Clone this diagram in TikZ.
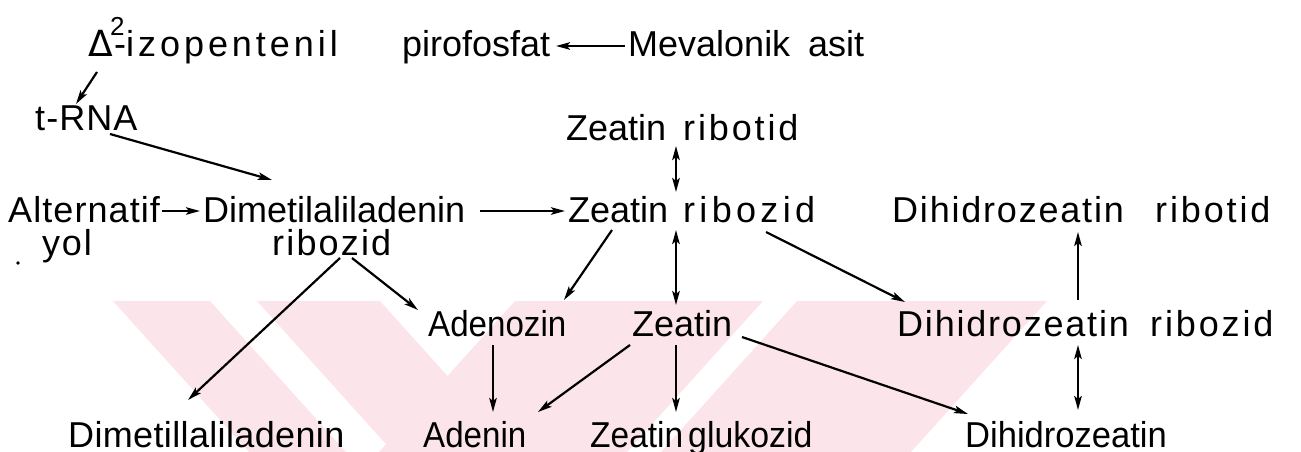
\documentclass[tikz,border=0pt]{standalone}
\usepackage{fontspec}
\setmainfont{Liberation Sans}
\newfontfamily\symfont{DejaVu Sans}
\usetikzlibrary{arrows.meta}

% letter-spaced word, and horizontally condensed word
\newcommand{\spaced}[2]{{\addfontfeatures{LetterSpace=#1}#2}}
\newcommand{\narrow}[2]{\scalebox{#1}[1]{#2}}

\begin{document}
\begin{tikzpicture}[x=1pt,y=-1pt,
  lbl/.style={anchor=base west, inner sep=0pt, font=\fontsize{36}{40}\selectfont},
  arr/.style={-{Stealth[length=14pt,width=7.5pt,inset=3pt]}, line width=2.2pt},
  darr/.style={{Stealth[length=14pt,width=7.5pt,inset=3pt]}-{Stealth[length=14pt,width=7.5pt,inset=3pt]}, line width=2.2pt},
  wm/.style={fill={rgb,255:red,252;green,229;blue,234}},
]
\useasboundingbox (0,0) rectangle (1301,452);

% pale background emblem
\begin{scope}
  \clip (0,0) rectangle (1301,452);
  \fill[wm] (113,301) -- (210,301) -- (346,452) -- (249,452) -- cycle;
  \fill[wm] (257,301) -- (380,301) -- (516,452) -- (393,452) -- cycle;
  \fill[wm] (515,301) -- (763,301) -- (627,452) -- (379,452) -- cycle;
  \fill[wm] (797,301) -- (1047,301) -- (911,452) -- (661,452) -- cycle;
\end{scope}

% labels (placed at the left end of their baseline)
\node[lbl] (iso) at (88,57) {\makebox[314pt][l]{\makebox[26pt][l]{\symfont Δ}\rlap{\hspace{-4pt}\raisebox{21pt}{\fontsize{26}{26}\selectfont 2}}-\spaced{11}{izopentenil}}pirofosfat};
\node[lbl] (mev) at (628,57) {\makebox[180pt][l]{Mevalonik}asit};
\node[lbl] (trna) at (35,130) {\spaced{3}{t-RNA}};
\node[lbl] (zrt) at (566,140) {\makebox[117pt][l]{Zeatin}\spaced{8}{ribotid}};
\node[lbl] (alt) at (8,222) {\rlap{\hspace{34pt}\raisebox{-33pt}{\spaced{5}{yol}}}\spaced{3}{Alternatif}};
\node[lbl] (dmar) at (203,222) {\rlap{\hspace{69pt}\raisebox{-33pt}{\spaced{6}{ribozid}}}Dimetilaliladenin};
\node[lbl] (zrz) at (568,222) {\makebox[115pt][l]{Zeatin}\spaced{12}{ribozid}};
\node[lbl] (dzrt) at (892,222) {\makebox[263pt][l]{\spaced{5}{Dihidrozeatin}}\spaced{8}{ribotid}};
\node[lbl] (ado) at (428,336) {\narrow{0.92}{Adenozin}};
\node[lbl] (zea) at (632,336) {Zeatin};
\node[lbl] (dzrz) at (897,336) {\makebox[253pt][l]{\spaced{5}{Dihidrozeatin}}\spaced{8}{ribozid}};
\node[lbl] (dma) at (68,447) {\spaced{1}{Dimetillaliladenin}};
\node[lbl] (ade) at (423,447) {\narrow{0.92}{Adenin}};
\node[lbl] (zgl) at (590,447) {\makebox[98pt][l]{\narrow{0.93}{Zeatin}}\narrow{0.94}{glukozid}};
\node[lbl] (dz) at (965,447) {\narrow{0.96}{Dihidrozeatin}};

% connectors
\draw[arr] ([shift={(-3,-11)}]mev.base west) -- ([shift={(468,-11)}]iso.base west);
\draw[arr] ([shift={(9,15)}]iso.base west) -- ([shift={(41,-26)}]trna.base west);
\draw[arr] ([shift={(75,4)}]trna.base west) -- ([shift={(69,-42)}]dmar.base west);
\draw[arr] ([shift={(154,-11)}]alt.base west) -- ([shift={(-3,-11)}]dmar.base west);
\draw[arr] ([shift={(277,-11)}]dmar.base west) -- ([shift={(-3,-11)}]zrz.base west);
\draw[darr] ([shift={(110,6)}]zrt.base west) -- ([shift={(108,-30)}]zrz.base west);
\draw[arr] ([shift={(44,8)}]zrz.base west) -- ([shift={(136,-36)}]ado.base west);
\draw[darr] ([shift={(108,8)}]zrz.base west) -- ([shift={(44,-31)}]zea.base west);
\draw[arr] ([shift={(198,10)}]zrz.base west) -- ([shift={(8,-34)}]dzrz.base west);
\draw[arr] ([shift={(181,-36)}]dzrz.base west) -- ([shift={(186,10)}]dzrt.base west);
\draw[arr] ([shift={(137,36)}]dmar.base west) -- ([shift={(120,-47)}]dma.base west);
\draw[arr] ([shift={(149,36)}]dmar.base west) -- ([shift={(-10,-26)}]ado.base west);
\draw[arr] ([shift={(65,9)}]ado.base west) -- ([shift={(70,-35)}]ade.base west);
\draw[arr] ([shift={(-2,9)}]zea.base west) -- ([shift={(115,-35)}]ade.base west);
\draw[arr] ([shift={(44,9)}]zea.base west) -- ([shift={(86,-35)}]zgl.base west);
\draw[arr] ([shift={(110,1)}]zea.base west) -- ([shift={(3,-33)}]dz.base west);
\draw[darr] ([shift={(181,9)}]dzrz.base west) -- ([shift={(113,-37)}]dz.base west);

% stray ink dot
\fill (18,263) circle (1.8pt);
\end{tikzpicture}
\end{document}
